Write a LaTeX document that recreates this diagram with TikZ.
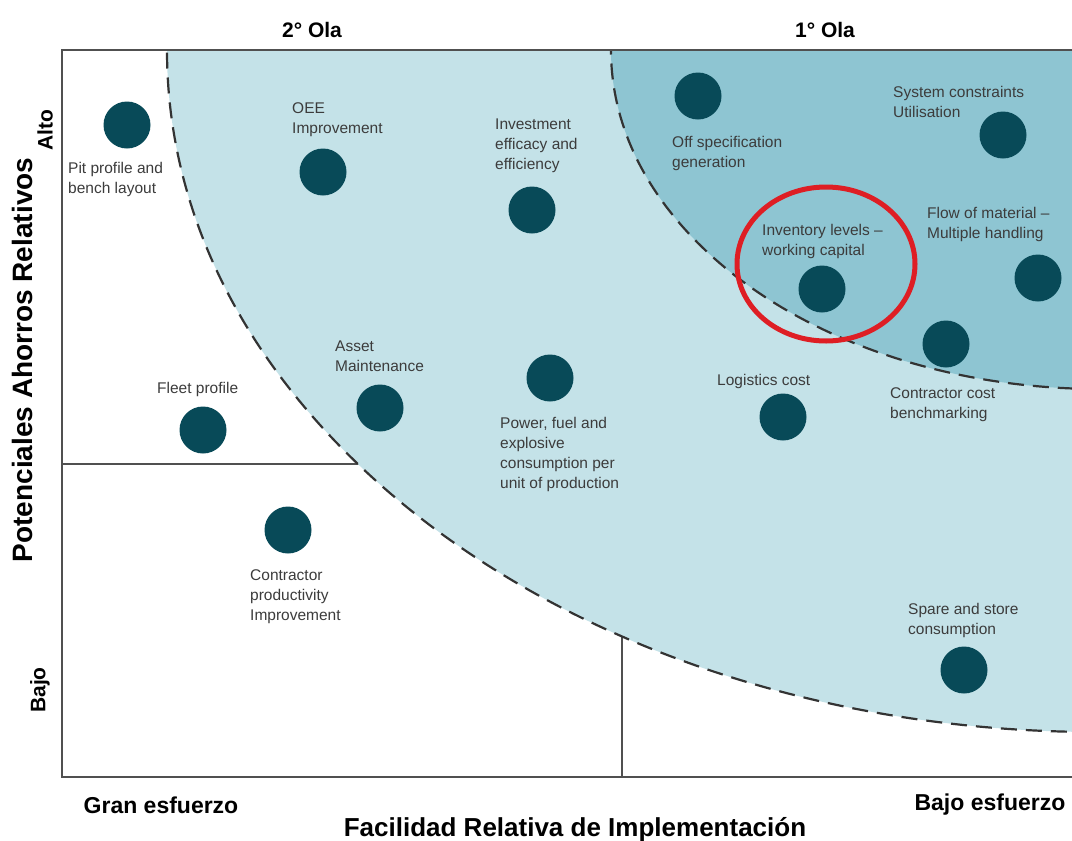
\documentclass[tikz,border=0pt]{standalone}
\usepackage{fontspec}
\setmainfont{Liberation Sans}
\definecolor{zoneLight}{RGB}{196,226,232}
\definecolor{zoneDark}{RGB}{142,197,210}
\definecolor{dotTeal}{RGB}{8,74,88}
\definecolor{frameGray}{RGB}{80,80,80}
\definecolor{labelGray}{RGB}{60,60,60}
\definecolor{markRed}{RGB}{222,30,36}
\tikzset{
  dot/.style={circle, fill=dotTeal, minimum size=47pt, inner sep=0pt},
  lbl/.style={anchor=north west, inner sep=0pt, align=left, text=labelGray,
              font=\fontsize{15.5}{20}\selectfont},
  title/.style={font=\bfseries\fontsize{21}{24}\selectfont, text=black, inner sep=0pt},
  axisname/.style={font=\bfseries\fontsize{26}{30}\selectfont, text=black, inner sep=0pt},
  effort/.style={font=\bfseries\fontsize{23}{26}\selectfont, text=black, inner sep=0pt},
  wave/.style={draw=black!80, line width=2.2pt, dash pattern=on 16pt off 9pt},
  divider/.style={draw=frameGray, line width=1.3pt},
  frame/.style={draw=frameGray, line width=2pt},
}
\begin{document}
\begin{tikzpicture}[x=1pt, y=-1pt]
\useasboundingbox[fill=white] (0,0) rectangle (1072,841);

% quadrant dividers (partly covered by the zones)
\coordinate (hl) at (62,464);
\coordinate (hr) at (450,464);
\coordinate (vb) at (622,777);
\coordinate (vt) at (622,560);
\draw[divider] (hl) -- (hr);
\draw[divider] (vb) -- (vt);

% the two waves: quarter ellipses centred beyond the top right corner
\begin{scope}
  \clip (62,50) rectangle (1072,777);
  \fill[zoneLight] (1097,50) ellipse [x radius=930pt, y radius=682pt];
  \fill[zoneDark] (1100,50) ellipse [x radius=489pt, y radius=339pt];
  \draw[wave] (1097,50) ellipse [x radius=930pt, y radius=682pt];
  \draw[wave] (1100,50) ellipse [x radius=489pt, y radius=339pt];
\end{scope}

% frame
\coordinate (fTL) at (62,50);
\coordinate (fTR) at (1072,50);
\coordinate (fBL) at (62,777);
\coordinate (fBR) at (1072,777);
\draw[frame] (fTR) -- (fTL) -- (fBL) -- (fBR);

% initiatives
\node[dot] (d-pit)   at (127,125) {};
\node[dot] (d-oee)   at (323,172) {};
\node[dot] (d-inv)   at (532,210) {};
\node[dot] (d-off)   at (698,96)  {};
\node[dot] (d-sys)   at (1003,135) {};
\node[dot] (d-flow)  at (1038,278) {};
\node[dot] (d-stock) at (822,289) {};
\node[dot] (d-ccost) at (946,344) {};
\node[dot] (d-log)   at (783,417) {};
\node[dot] (d-power) at (550,378) {};
\node[dot] (d-asset) at (380,408) {};
\node[dot] (d-fleet) at (203,430) {};
\node[dot] (d-cprod) at (288,530) {};
\node[dot] (d-spare) at (964,670) {};

\node[lbl] (l-pit)   at (68,162)  {Pit profile and\\bench layout};
\node[lbl] (l-oee)   at (292,102) {OEE\\Improvement};
\node[lbl] (l-inv)   at (495,119) {Investment\\efficacy and\\efficiency};
\node[lbl] (l-off)   at (672,136) {Off specification\\generation};
\node[lbl] (l-sys)   at (893,86)  {System constraints\\Utilisation};
\node[lbl] (l-flow)  at (927,207) {Flow of material –\\Multiple handling};
\node[lbl] (l-stock) at (762,224) {Inventory levels –\\working capital};
\node[lbl] (l-ccost) at (890,387) {Contractor cost\\benchmarking};
\node[lbl] (l-log)   at (717,374) {Logistics cost};
\node[lbl] (l-power) at (500,417) {Power, fuel and\\explosive\\consumption per\\unit of production};
\node[lbl] (l-asset) at (335,341) {Asset\\Maintenance};
\node[lbl] (l-fleet) at (157,382) {Fleet profile};
\node[lbl] (l-cprod) at (250,569) {Contractor\\productivity\\Improvement};
\node[lbl] (l-spare) at (908,603) {Spare and store\\consumption};

% highlight
\draw[markRed, line width=5pt] (826,264) ellipse [x radius=89pt, y radius=77pt];

% titles and axes
\node[title] (t-second) at (312,30) {2° Ola};
\node[title] (t-first)  at (825,30) {1° Ola};
\node[title, rotate=90] (t-alto) at (45,130) {Alto};
\node[title, rotate=90] (t-bajo) at (40,690) {Bajo};
\node[axisname, rotate=90, font=\bfseries\fontsize{28}{32}\selectfont] (t-yaxis) at (22,360) {Potenciales Ahorros Relativos};
\node[effort] (t-gran) at (161,805) {Gran esfuerzo};
\node[effort] (t-bajoe) at (990,805) {Bajo esfuerzo};
\node[axisname] (t-xaxis) at (575,830) {Facilidad Relativa de Implementación};
\end{tikzpicture}
\end{document}
